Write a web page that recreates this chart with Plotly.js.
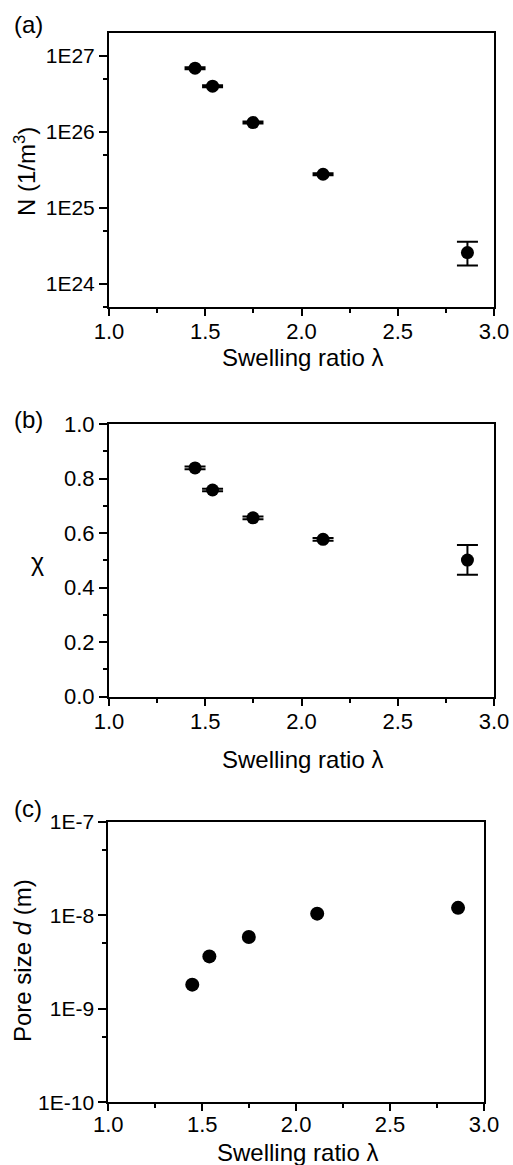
<!DOCTYPE html>
<html>
<head>
<meta charset="utf-8">
<script src="https://cdn.plot.ly/plotly-3.0.1.min.js"></script>
<style>html,body{margin:0;padding:0;background:#fff;}#chart{width:513px;height:1165px;}</style>
</head>
<body>
<div id="chart"></div>
<script>
// Data
var lambdaVals = [1.447, 1.538, 1.748, 2.112, 2.862];
var crosslinkN = [6.9e26, 4.0e26, 1.33e26, 2.78e25, 2.6e24];
var crosslinkNErrPlus = [2.0e25, 1.2e25, 4.0e24, 8.0e23, 1.0e24];
var crosslinkNErrMinus = [2.0e25, 1.2e25, 4.0e24, 8.0e23, 0.84e24];
var chiVals = [0.839, 0.758, 0.656, 0.577, 0.501];
var chiErrPlus = [0.005, 0.005, 0.005, 0.005, 0.055];
var chiErrMinus = [0.005, 0.005, 0.005, 0.005, 0.054];
var poreSize = [1.81e-9, 3.63e-9, 5.85e-9, 1.04e-8, 1.2e-8];

var xTickVals = [1.0, 1.5, 2.0, 2.5, 3.0];
var nTickVals = [1e24, 1e25, 1e26, 1e27];
var nTickText = ['1E24', '1E25', '1E26', '1E27'];
var nMinorVals = [5e23, 5e24, 5e25, 5e26];
var dTickVals = [1e-10, 1e-9, 1e-8, 1e-7];
var dTickText = ['1E-10', '1E-9', '1E-8', '1E-7'];
var dMinorVals = [5e-10, 5e-9, 5e-8];

var W = 513, H = 1165;
function px(x) { return x / W; }
function py(y) { return 1 - y / H; }

var FONT = 'Liberation Sans, Arial, sans-serif';
var marker = {symbol: 'circle', size: 13, color: '#000'};

var traces = [
  {
    x: lambdaVals, y: crosslinkN, xaxis: 'x', yaxis: 'y', type: 'scatter', mode: 'markers',
    marker: marker,
    error_y: {type: 'data', symmetric: false, array: crosslinkNErrPlus, arrayminus: crosslinkNErrMinus,
              color: '#000', thickness: 2, width: 10.5}
  },
  {
    x: lambdaVals, y: chiVals, xaxis: 'x2', yaxis: 'y2', type: 'scatter', mode: 'markers',
    marker: marker,
    error_y: {type: 'data', symmetric: false, array: chiErrPlus, arrayminus: chiErrMinus,
              color: '#000', thickness: 2, width: 10.5}
  },
  {
    x: lambdaVals, y: poreSize, xaxis: 'x3', yaxis: 'y3', type: 'scatter', mode: 'markers',
    marker: {symbol: 'circle', size: 14, color: '#000'}
  }
];

function xAxis(domain, anchor, standoff) {
  return {
    domain: domain, anchor: anchor, range: [1, 3],
    tickmode: 'array', tickvals: xTickVals, tickformat: '.1f',
    ticks: 'outside', ticklen: 7, tickwidth: 2, tickcolor: '#000',
    ticklabelstandoff: standoff,
    minor: {dtick: 0.25, tick0: 1, ticks: 'outside', ticklen: 4, tickwidth: 2, tickcolor: '#000'},
    showline: true, linewidth: 2, linecolor: '#000', mirror: true,
    showgrid: false, zeroline: false,
    tickfont: {family: FONT, size: 22, color: '#000'}
  };
}

var yCommon = {
  ticks: 'outside', ticklen: 8, tickwidth: 2, tickcolor: '#000',
  showline: true, linewidth: 2, linecolor: '#000', mirror: true,
  showgrid: false, zeroline: false,
  tickfont: {family: FONT, size: 21, color: '#000'}
};

function ann(text, x, y, size, angle) {
  return {text: text, x: px(x), y: py(y), xref: 'paper', yref: 'paper',
          xanchor: 'center', yanchor: 'middle', showarrow: false, textangle: angle || 0,
          font: {family: FONT, size: size, color: '#000'}};
}

var layout = {
  width: W, height: H,
  margin: {l: 0, r: 0, t: 0, b: 0},
  paper_bgcolor: '#fff', plot_bgcolor: '#fff',
  showlegend: false,
  xaxis: xAxis([px(109), px(494)], 'y', -3),
  xaxis2: xAxis([px(109), px(494)], 'y2', -3),
  xaxis3: xAxis([px(108.3), px(484)], 'y3', -6),
  yaxis: Object.assign({}, yCommon, {
    domain: [py(307), py(33)], anchor: 'x', type: 'log',
    range: [Math.log10(5e23), Math.log10(2e27)],
    tickmode: 'array', tickvals: nTickVals, ticktext: nTickText,
    minor: {tickmode: 'array', tickvals: nMinorVals, ticks: 'outside', ticklen: 4, tickwidth: 2, tickcolor: '#000'}
  }),
  yaxis2: Object.assign({}, yCommon, {
    domain: [py(696.7), py(424)], anchor: 'x2', range: [0, 1],
    tickmode: 'array', tickvals: [0, 0.2, 0.4, 0.6, 0.8, 1.0], tickformat: '.1f',
    tickfont: {family: FONT, size: 22, color: '#000'},
    minor: {dtick: 0.1, tick0: 0, ticks: 'outside', ticklen: 4, tickwidth: 2, tickcolor: '#000'}
  }),
  yaxis3: Object.assign({}, yCommon, {
    domain: [py(1102.3), py(821.7)], anchor: 'x3', type: 'log',
    range: [-10, -7],
    tickmode: 'array', tickvals: dTickVals, ticktext: dTickText,
    minor: {tickmode: 'array', tickvals: dMinorVals, ticks: 'outside', ticklen: 4, tickwidth: 2, tickcolor: '#000'}
  }),
  annotations: [
    ann('(a)', 28, 25, 24),
    ann('(b)', 28, 420, 24),
    ann('(c)', 28, 808, 24),
    ann('Swelling ratio λ', 302, 357, 24),
    ann('Swelling ratio λ', 302, 759, 24),
    ann('Swelling ratio λ', 297, 1152, 24),
    ann('N (1/m<sup>3</sup>)', 25, 172, 24, -90),
    ann('χ', 37, 562, 25),
    ann('Pore size <i>d</i> (m)', 23, 961, 24, -90)
  ]
};

Plotly.newPlot('chart', traces, layout, {displayModeBar: false, staticPlot: true});
</script>
</body>
</html>
